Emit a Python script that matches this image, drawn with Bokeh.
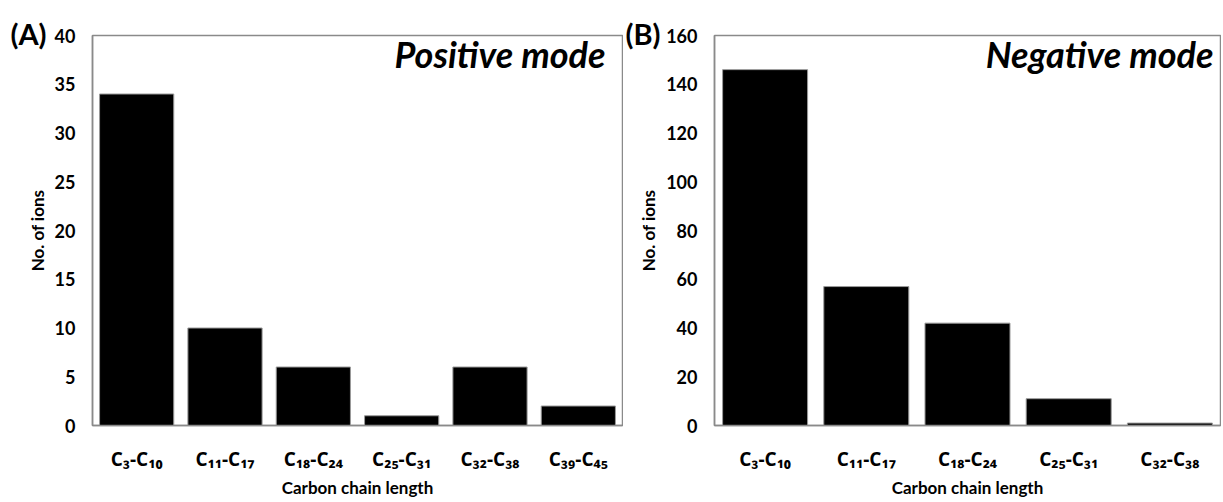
from bokeh.plotting import figure
from bokeh.models import Label, FactorRange, Range1d, FixedTicker
from bokeh.layouts import row
from bokeh.embed import file_html
from bokeh.resources import INLINE

# ---- data ----
cats_a = ["C₃-C₁₀", "C₁₁-C₁₇", "C₁₈-C₂₄", "C₂₅-C₃₁", "C₃₂-C₃₈", "C₃₉-C₄₅"]
vals_a = [34, 10, 6, 1, 6, 2]
cats_b = ["C₃-C₁₀", "C₁₁-C₁₇", "C₁₈-C₂₄", "C₂₅-C₃₁", "C₃₂-C₃₈"]
vals_b = [146, 57, 42, 11, 1]
ticks_a = [0, 5, 10, 15, 20, 25, 30, 35, 40]
ticks_b = [0, 20, 40, 60, 80, 100, 120, 140, 160]

FONT = "Lato"
GRAY = "#8a8a8a"


def make_panel(cats, vals, ticks, ymax, w, bl, br):
    p = figure(x_range=FactorRange(*cats), y_range=Range1d(0, ymax),
               width=w, height=500,
               min_border_left=bl, min_border_right=br,
               min_border_top=20, min_border_bottom=72,
               output_backend="svg", toolbar_location=None)
    p.vbar(x=cats, top=vals, width=0.84, fill_color="black",
           line_color="#9a9a9a", line_width=1)
    p.xgrid.visible = False
    p.ygrid.visible = False
    p.outline_line_color = GRAY
    p.outline_line_width = 1.5
    for ax in (p.xaxis[0], p.yaxis[0]):
        ax.axis_line_color = GRAY
        ax.axis_line_width = 1.5
        ax.major_tick_line_color = None
        ax.minor_tick_line_color = None
        ax.major_label_text_font = FONT
        ax.major_label_text_font_style = "bold"
        ax.major_label_text_color = "black"
        ax.axis_label_text_font = FONT
        ax.axis_label_text_font_style = "bold"
        ax.axis_label_text_font_size = "17px"
        ax.axis_label_text_color = "black"
    p.yaxis.ticker = FixedTicker(ticks=ticks)
    p.yaxis.major_label_text_font_size = "18px"
    p.yaxis.major_label_standoff = 11
    p.yaxis.axis_label = "No. of ions"
    p.yaxis.axis_label_standoff = 4
    p.xaxis.major_label_text_font = "Open Sans"
    p.xaxis.major_label_text_font_size = "19px"
    p.xaxis.major_label_standoff = 14
    p.xaxis.axis_label = "Carbon chain length"
    p.xaxis.axis_label_standoff = 2
    return p


pa = make_panel(cats_a, vals_a, ticks_a, 40, 623, 92, 1)
pb = make_panel(cats_b, vals_b, ticks_b, 160, 598, 91, 1)

# panel letters: placed from the top side panel (not clipped by the frame)
for p, lx, letter in ((pa, -82, "(A)"), (pb, -89, "(B)")):
    p.add_layout(Label(x=lx, y=2, x_units="screen", y_units="screen",
                       text=letter, text_font=FONT, text_font_style="bold",
                       text_font_size="29px", text_line_height=0.5,
                       text_baseline="middle", text_align="left",
                       text_color="black"), "above")

# mode titles (kept fully inside the frame)
pa.add_layout(Label(x=513, y=372, x_units="screen", y_units="screen",
                    text="Positive mode", text_font=FONT,
                    text_font_style="bold italic", text_font_size="36px",
                    text_baseline="middle", text_align="right",
                    text_color="black"))
pb.add_layout(Label(x=499, y=372, x_units="screen", y_units="screen",
                    text="Negative mode", text_font=FONT,
                    text_font_style="bold italic", text_font_size="36px",
                    text_baseline="middle", text_align="right",
                    text_color="black"))

layout = row(pa, pb)
open("out.html", "w").write(file_html(layout, INLINE))
